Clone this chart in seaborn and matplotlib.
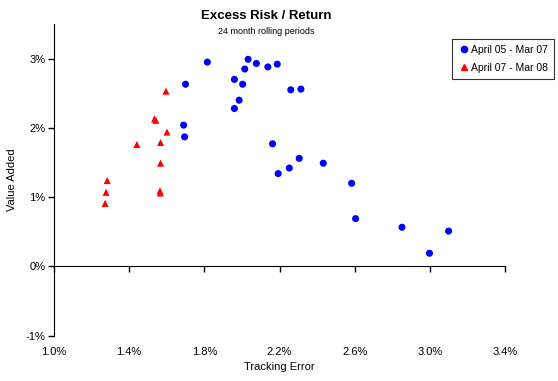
import matplotlib
matplotlib.use("Agg")
import matplotlib.pyplot as plt
import matplotlib.ticker as mticker
import seaborn as sns
import pandas as pd

# period 1: April 05 - Mar 07 (tracking error %, value added %)
te_0507 = [1.70, 1.816, 1.69, 1.695, 1.96, 2.004, 1.985, 1.96, 2.015, 2.033,
           2.077, 2.138, 2.188, 2.26, 2.314, 2.163, 2.193, 2.252, 2.305, 2.433,
           2.584, 2.605, 2.852, 2.998, 3.10]
va_0507 = [2.63, 2.95, 2.04, 1.87, 2.70, 2.63, 2.40, 2.28, 2.85, 2.99,
           2.93, 2.88, 2.92, 2.55, 2.56, 1.77, 1.34, 1.42, 1.56, 1.49,
           1.20, 0.69, 0.565, 0.19, 0.51]

# period 2: April 07 - Mar 08
te_0708 = [1.596, 1.535, 1.542, 1.601, 1.441, 1.567, 1.567, 1.283, 1.277,
           1.272, 1.564, 1.566]
va_0708 = [2.53, 2.13, 2.11, 1.94, 1.76, 1.79, 1.49, 1.24, 1.07,
           0.91, 1.09, 1.06]

labels = ["April 05 - Mar 07", "April 07 - Mar 08"]
x_ticks = [1.0, 1.4, 1.8, 2.2, 2.6, 3.0, 3.4]
y_ticks = [-1, 0, 1, 2, 3]

df = pd.DataFrame({
    "te": te_0507 + te_0708,
    "va": va_0507 + va_0708,
    "period": [labels[0]] * len(te_0507) + [labels[1]] * len(te_0708),
})

sns.set_style("white")
plt.rcParams["font.family"] = ["Liberation Sans", "DejaVu Sans"]
plt.rcParams["text.color"] = "black"
plt.rcParams["axes.labelcolor"] = "black"
plt.rcParams["xtick.color"] = "black"
plt.rcParams["ytick.color"] = "black"

fig = plt.figure(figsize=(5.58, 3.81), dpi=100)
ax = fig.add_axes([0.0968, 0.119, 0.8082, 0.818])

sns.scatterplot(data=df, x="te", y="va", hue="period", style="period",
                palette={labels[0]: "#0000ff", labels[1]: "#ff0000"},
                markers={labels[0]: "o", labels[1]: "^"},
                s=26, edgecolor="none", linewidth=0, ax=ax, legend=False)

ax.set_xlim(1.0, 3.4)
ax.set_ylim(-1, 3.5)
ax.set_yticks(y_ticks)
ax.yaxis.set_major_formatter(mticker.FuncFormatter(lambda v, p: f"{v:.0f}%"))
ax.set_xticks(x_ticks)
ax.tick_params(axis="x", labelbottom=False, direction="out", length=4,
               width=1, color="black", bottom=True)
ax.tick_params(axis="y", direction="out", length=4, width=1, color="black",
               left=True, labelsize=8, pad=2, labelcolor="black")

for side in ["top", "right"]:
    ax.spines[side].set_visible(False)
ax.spines["left"].set_color("black")
ax.spines["bottom"].set_color("black")
ax.spines["bottom"].set_position(("data", 0))

sec = ax.secondary_xaxis("bottom")
sec.set_xticks(x_ticks)
sec.xaxis.set_major_formatter(mticker.FuncFormatter(lambda v, p: f"{v:.1f}%"))
sec.tick_params(axis="x", length=0, labelsize=8, pad=8, labelcolor="black")
sec.spines["bottom"].set_visible(False)
sec.set_xlabel("Tracking Error", fontsize=8, labelpad=4, color="black")

ax.set_xlabel("")
ax.set_ylabel("Value Added", fontsize=8, labelpad=6, color="black")

fig.text(0.477, 0.958, "Excess Risk / Return", ha="center", va="center",
         fontsize=9.5, fontweight="bold", color="black")
fig.text(0.477, 0.918, "24 month rolling periods", ha="center", va="center",
         fontsize=6.5, color="black")

handles = [
    plt.Line2D([], [], marker="o", color="#0000ff", linestyle="none", markersize=4.5),
    plt.Line2D([], [], marker="^", color="#ff0000", linestyle="none", markersize=5),
]
leg = fig.legend(handles, labels, loc="upper left",
                 bbox_to_anchor=(0.81, 0.898), fontsize=7.5, frameon=True,
                 fancybox=False, edgecolor="black", handletextpad=0.1,
                 handlelength=1.2, borderpad=0.55, labelspacing=0.8,
                 borderaxespad=0)
leg.get_frame().set_linewidth(0.8)
for t in leg.get_texts():
    t.set_color("black")

fig.savefig("out.png", dpi=100)
